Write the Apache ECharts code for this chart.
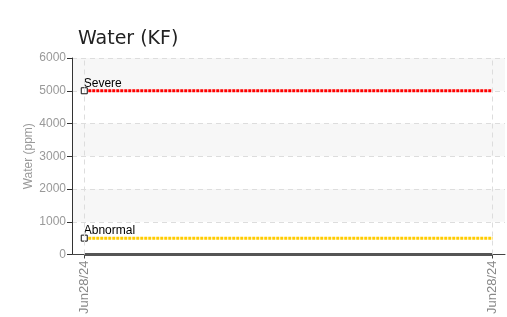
<!DOCTYPE html>
<html>
<head>
<meta charset="utf-8">
<script src="https://cdn.jsdelivr.net/npm/echarts@6/dist/echarts.min.js"></script>
<style>
  html, body { margin: 0; padding: 0; background: #fff; }
  #chart { width: 507px; height: 317px; }
</style>
</head>
<body>
<div id="chart"></div>
<script>
// data
var dates = ['Jun28/24', 'Jun28/24'];
var waterValues = [0, 0];
var severeValues = [5000, 5000];
var abnormalValues = [500, 500];
var yTicks = [0, 1000, 2000, 3000, 4000, 5000, 6000];

function toPoints(vals) {
    return vals.map(function (v, i) { return [i, v]; });
}

// first point gets the little square and the label
function limitPoints(vals, name) {
    var pts = toPoints(vals);
    pts[0] = {
        value: pts[0],
        symbol: 'rect',
        symbolSize: 6,
        itemStyle: { color: '#fff', borderColor: '#111', borderWidth: 1 },
        label: {
            show: true,
            formatter: name,
            position: [3, -10],
            fontFamily: 'Liberation Sans Narrow, Liberation Sans, sans-serif',
            fontSize: 12,
            color: '#000'
        }
    };
    return pts;
}

var myChart = echarts.init(document.getElementById('chart'));
var options = {
    backgroundColor: '#fff',
    animation: false,
    title: {
        text: 'Water (KF)',
        left: 73,
        top: 25,
        textStyle: {
            fontFamily: 'DejaVu Sans, sans-serif',
            fontSize: 19,
            fontWeight: 'normal',
            color: '#222'
        }
    },
    grid: { left: 72, right: 2, top: 58, bottom: 61 },
    xAxis: {
        type: 'value',
        min: -0.03,
        max: 1.03,
        axisLine: { onZero: false, lineStyle: { color: '#444', width: 1 } },
        axisTick: { customValues: [0, 1], length: 4, lineStyle: { color: '#444' } },
        axisLabel: {
            customValues: [0, 1],
            rotate: 90,
            margin: 6,
            color: '#888',
            fontFamily: 'Liberation Sans, sans-serif',
            fontSize: 13,
            formatter: function (v) { return dates[Math.round(v)]; }
        },
        splitLine: { show: false }
    },
    yAxis: {
        type: 'value',
        min: yTicks[0],
        max: yTicks[yTicks.length - 1],
        interval: 1000,
        name: 'Water (ppm)',
        nameLocation: 'middle',
        nameGap: 37,
        nameMoveOverlap: false,
        nameTextStyle: { color: '#999', fontFamily: 'Liberation Sans, sans-serif', fontSize: 12 },
        axisLine: { show: true, onZero: false, lineStyle: { color: '#333', width: 1 } },
        axisTick: { show: true, length: 5, lineStyle: { color: '#333' } },
        axisLabel: {
            color: '#999',
            fontFamily: 'Liberation Sans, sans-serif',
            fontSize: 12,
            margin: 6,
            formatter: function (v) { return String(v); }
        },
        splitLine: { lineStyle: { color: '#ddd', type: [5, 4] } },
        splitArea: { show: true, areaStyle: { color: ['rgba(255,255,255,0)', '#f7f7f7'] } }
    },
    series: [
        {
            name: 'Water',
            type: 'line',
            symbol: 'none',
            data: toPoints(waterValues),
            lineStyle: { color: '#555', width: 3 },
            z: 3,
            markLine: {
                silent: true,
                symbol: 'none',
                label: { show: false },
                lineStyle: { color: '#ddd', type: [5, 4], width: 1 },
                data: dates.map(function (d, i) { return { xAxis: i }; })
            }
        },
        {
            name: 'Severe',
            type: 'line',
            symbol: 'none',
            data: limitPoints(severeValues, 'Severe'),
            lineStyle: { color: '#ff0000', width: 3, type: [3, 1] },
            z: 4
        },
        {
            name: 'Abnormal',
            type: 'line',
            symbol: 'none',
            data: limitPoints(abnormalValues, 'Abnormal'),
            lineStyle: { color: '#ffcc00', width: 3, type: [3, 1] },
            z: 4
        }
    ]
};
myChart.setOption(options);
</script>
</body>
</html>
